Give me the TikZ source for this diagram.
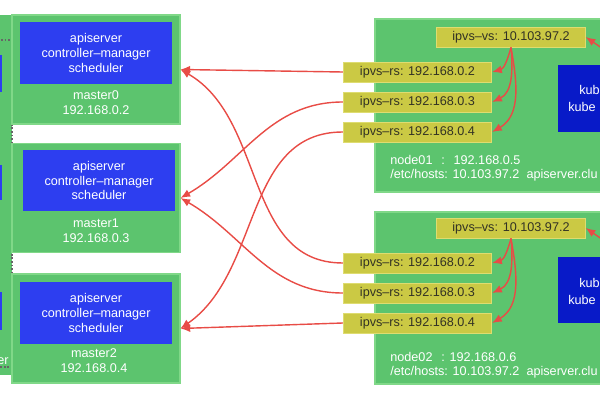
\documentclass[tikz,border=0pt]{standalone}
\usepackage{fontspec}
\setmainfont{Liberation Sans}
\usetikzlibrary{arrows.meta}
\definecolor{boxgreen}{RGB}{92,196,110}
\definecolor{edgegreen}{RGB}{128,216,136}
\definecolor{apiblue}{RGB}{45,62,240}
\definecolor{kubeblue}{RGB}{8,26,200}
\definecolor{ipvsyellow}{RGB}{203,201,68}
\definecolor{ipvsedge}{RGB}{222,220,112}
\definecolor{ipvstext}{RGB}{50,50,36}
\definecolor{linkred}{RGB}{232,76,70}
\begin{document}
\begin{tikzpicture}[x=0.02cm, y=0.02cm,
  every node/.style={font=\fontsize{7.2}{8.5}\selectfont, text=white, inner sep=0pt},
  hostbox/.style={fill=boxgreen, draw=edgegreen, line width=0.6pt},
  master/.style={hostbox, minimum width=3.36cm, minimum height=2.18cm},
  api/.style={fill=apiblue, minimum width=3.04cm, minimum height=1.24cm, align=center},
  ipvs/.style={fill=ipvsyellow, draw=ipvsedge, line width=0.5pt, text=ipvstext,
    minimum width=2.97cm, minimum height=0.4cm},
  hostinfo/.style={anchor=west, align=left},
  arr/.style={draw=linkred, line width=0.8pt, -{Latex[length=5.5pt,width=4.5pt]}}]
  \useasboundingbox (0,0) rectangle (600,400);
  \clip (0,0) rectangle (600,400);

  \fill[boxgreen] (-20,25) rectangle (12,385);
  \fill[apiblue] (-20,308) rectangle (2,345);
  \fill[apiblue] (-20,200) rectangle (2,235);
  \fill[apiblue] (-20,70) rectangle (2,108);
  \draw[densely dotted, line width=1pt, black!60] (-20,360) -- (12,360) -- (12,33) -- (-20,33);
  \node[anchor=east] (lbtext) at (9,39) {er};

  \node[master] (m0) at (96,330.5) {};
  \node[api] (api0) at (96,347) {apiserver\\controller–manager\\scheduler};
  \node[align=center] (m0info) at (96,297) {master0\\192.168.0.2};

  \node[master] (m1) at (96,202) {};
  \node[api] (api1) at (99,219.5) {apiserver\\controller–manager\\scheduler};
  \node[align=center] (m1info) at (96,169.5) {master1\\192.168.0.3};

  \node[master] (m2) at (96,71.5) {};
  \node[api] (api2) at (96,87) {apiserver\\controller–manager\\scheduler};
  \node[align=center] (m2info) at (94,39.5) {master2\\192.168.0.4};

  \path[hostbox] (375,208) rectangle (620,381);
  \fill[kubeblue] (558,268) rectangle (620,335);
  \node[anchor=west] (kube1a) at (579,310) {kub};
  \node[anchor=west] (kube1b) at (568,293) {kube};
  \node[ipvs] (vs1) at (511,363) {ipvs–vs: 10.103.97.2};
  \node[ipvs] (n1rs2) at (417.5,328) {ipvs–rs: 192.168.0.2};
  \node[ipvs] (n1rs3) at (417.5,298) {ipvs–rs: 192.168.0.3};
  \node[ipvs] (n1rs4) at (417.5,268) {ipvs–rs: 192.168.0.4};
  \node[hostinfo] (n1name) at (390,240) {node01\hspace{5pt}:\hspace{5pt}192.168.0.5};
  \node[hostinfo] (n1hosts) at (390,225) {/etc/hosts: 10.103.97.2\ \ apiserver.clu};

  \path[hostbox] (375,16) rectangle (620,188);
  \fill[kubeblue] (558,77) rectangle (620,143);
  \node[anchor=west] (kube2a) at (579,117) {kub};
  \node[anchor=west] (kube2b) at (568,100) {kube};
  \node[ipvs] (vs2) at (511,172) {ipvs–vs: 10.103.97.2};
  \node[ipvs] (n2rs2) at (417.5,137) {ipvs–rs: 192.168.0.2};
  \node[ipvs] (n2rs3) at (417.5,107) {ipvs–rs: 192.168.0.3};
  \node[ipvs] (n2rs4) at (417.5,77) {ipvs–rs: 192.168.0.4};
  \node[hostinfo] (n2name) at (390,43) {node02\hspace{5pt}: 192.168.0.6};
  \node[hostinfo] (n2hosts) at (390,28) {/etc/hosts: 10.103.97.2\ \ apiserver.clu};

  \coordinate (kp1) at (615,343);
  \coordinate (kp2) at (615,152);
  \draw[arr] (kp1) -- (vs1.east);
  \draw[arr] (kp2) -- (vs2.east);

  \draw[arr] (vs1.south) to[out=-105,in=15] (n1rs2.east);
  \draw[arr] (vs1.south) to[out=-85,in=25] (n1rs3.east);
  \draw[arr] (vs1.south) to[out=-80,in=30] (n1rs4.east);
  \draw[arr] (vs2.south) to[out=-105,in=15] (n2rs2.east);
  \draw[arr] (vs2.south) to[out=-85,in=25] (n2rs3.east);
  \draw[arr] (vs2.south) to[out=-80,in=30] (n2rs4.east);

  \draw[arr] (n1rs2.west) -- (m0.east);
  \draw[arr] (n1rs3.west) to[out=180,in=30] (m1.east);
  \draw[arr] (n1rs4.west) to[out=180,in=35] (m2.east);
  \draw[arr] (n2rs2.west) to[out=180,in=-30] (m0.east);
  \draw[arr] (n2rs3.west) to[out=180,in=-30] (m1.east);
  \draw[arr] (n2rs4.west) -- (m2.east);
\end{tikzpicture}
\end{document}
